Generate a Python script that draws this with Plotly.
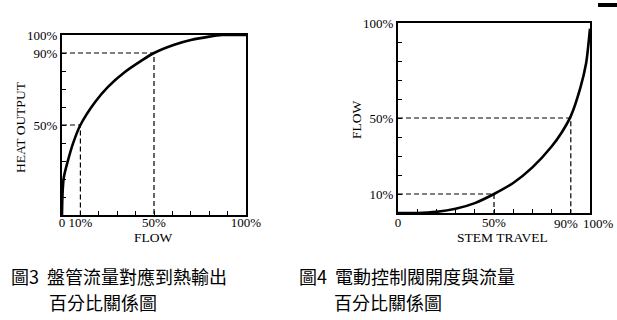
import plotly.graph_objects as go

W, H = 617, 320

# Chart 1: heat output vs coil flow
flow1 = [0, 0.3, 1, 3.3, 6, 10, 18, 25, 34, 43, 50, 61, 70, 80, 87, 100]
heat1 = [0, 12, 21, 30.5, 39.8, 50, 62.8, 71.2, 79.3, 85.6, 90, 94.6, 97.2, 99.1, 100, 100]

# Chart 2: flow vs stem travel
travel2 = [0, 2, 10, 20, 30, 40, 50, 60, 70, 80, 85, 90, 95, 98, 99.3, 100]
flow2 = [0, 0, 0, 0.6, 2.2, 5.2, 10, 15.8, 24, 35, 42, 51, 66, 79, 90, 97]

# Guide (dashed) lines
guide1_x = [[0, 10, 10], [0, 50, 50]]
guide1_y = [[50, 50, 0], [90, 90, 0]]
guide2_x = [[0, 50, 50], [0, 90, 90]]
guide2_y = [[10, 10, 0], [50, 50, 0]]

ticks = [0, 10, 20, 30, 40, 50, 60, 70, 80, 90, 100]
x1_labels = {0: "0", 10: "10%", 50: "50%", 100: "100%"}
y1_labels = {50: "50%", 90: "90%", 100: "100%"}
x2_labels = {0: "0", 50: "50%"}
x2_extra = {90: ("90%", -5), 100: ("100%", 8)}
y2_labels = {10: "10%", 50: "50%", 100: "100%"}

x1_title, y1_title = "FLOW", "HEAT OUTPUT"
x2_title, y2_title = "STEM TRAVEL", "FLOW"
cap1 = ["圖3  盤管流量對應到熱輸出", "百分比關係圖"]
cap2 = ["圖4  電動控制閥開度與流量", "百分比關係圖"]

SERIF = "Liberation Serif, Times New Roman, serif"
CJK = "Noto Sans CJK TC"

fig = go.Figure()

for gx, gy in zip(guide1_x, guide1_y):
    fig.add_trace(go.Scatter(x=gx, y=gy, mode="lines", xaxis="x", yaxis="y",
                             line=dict(color="black", width=1.2, dash="5px,3px"),
                             hoverinfo="skip", showlegend=False))
fig.add_trace(go.Scatter(x=flow1, y=heat1, mode="lines", xaxis="x", yaxis="y",
                         line=dict(color="black", width=2.6, shape="spline", smoothing=0.8),
                         showlegend=False))
for gx, gy in zip(guide2_x, guide2_y):
    fig.add_trace(go.Scatter(x=gx, y=gy, mode="lines", xaxis="x2", yaxis="y2",
                             line=dict(color="black", width=1.2, dash="5px,3px"),
                             hoverinfo="skip", showlegend=False))
fig.add_trace(go.Scatter(x=travel2, y=flow2, mode="lines", xaxis="x2", yaxis="y2",
                         line=dict(color="black", width=2.6, shape="spline", smoothing=0.8),
                         showlegend=False))


def ax(domain, labels, anchor, standoff=0):
    return dict(domain=domain, range=[0, 100], anchor=anchor,
                tickmode="array", tickvals=ticks,
                ticktext=[labels.get(t, "") for t in ticks],
                ticks="inside", ticklen=4, tickwidth=1, tickcolor="black",
                showline=True, linecolor="black", linewidth=2, mirror=True,
                showgrid=False, zeroline=False, automargin=False, tickangle=0,
                ticklabelstandoff=standoff,
                tickfont=dict(family=SERIF, size=13, color="black"),
                fixedrange=True)


def px_x(a, b):
    return [a / W, b / W]


def px_y(top, bottom):
    return [1 - bottom / H, 1 - top / H]


fig.update_layout(
    width=W, height=H, margin=dict(l=0, r=0, t=0, b=0, pad=0, autoexpand=False),
    paper_bgcolor="white", plot_bgcolor="white",
    xaxis=ax(px_x(62, 246), x1_labels, "y", -6),
    yaxis=ax(px_y(35, 215), y1_labels, "x"),
    xaxis2=ax(px_x(398, 590), x2_labels, "y2", -4),
    yaxis2=ax(px_y(23, 213), y2_labels, "x2"),
)

ann = []
def text(x, y, s, size, family, angle=0, xanchor="center"):
    ann.append(dict(x=x / W, y=1 - y / H, xref="paper", yref="paper", text=s,
                    showarrow=False, xanchor=xanchor, yanchor="middle", textangle=angle,
                    font=dict(family=family, size=size, color="black")))

for v, (s, dx) in x2_extra.items():
    ann.append(dict(x=v, y=0, xref="x2", yref="y2", text=s, showarrow=False,
                    xanchor="center", yanchor="top", xshift=dx, yshift=-1,
                    font=dict(family=SERIF, size=13, color="black")))

text(153, 237, x1_title, 13.5, SERIF)
text(20, 127, y1_title, 13.5, SERIF, angle=-90)
text(502, 237, x2_title, 13.5, SERIF)
text(356, 120, y2_title, 13.5, SERIF, angle=-90)
text(9, 276, cap1[0], 18, CJK, xanchor="left")
text(47, 302, cap1[1], 18, CJK, xanchor="left")
text(297, 276, cap2[0], 18, CJK, xanchor="left")
text(332, 302, cap2[1], 18, CJK, xanchor="left")
fig.update_layout(annotations=ann)

fig.add_shape(type="rect", xref="paper", yref="paper",
              x0=598 / W, x1=1, y0=1 - 7 / H, y1=1 - 3 / H,
              fillcolor="black", line=dict(width=0))

fig.write_html("out.html")
